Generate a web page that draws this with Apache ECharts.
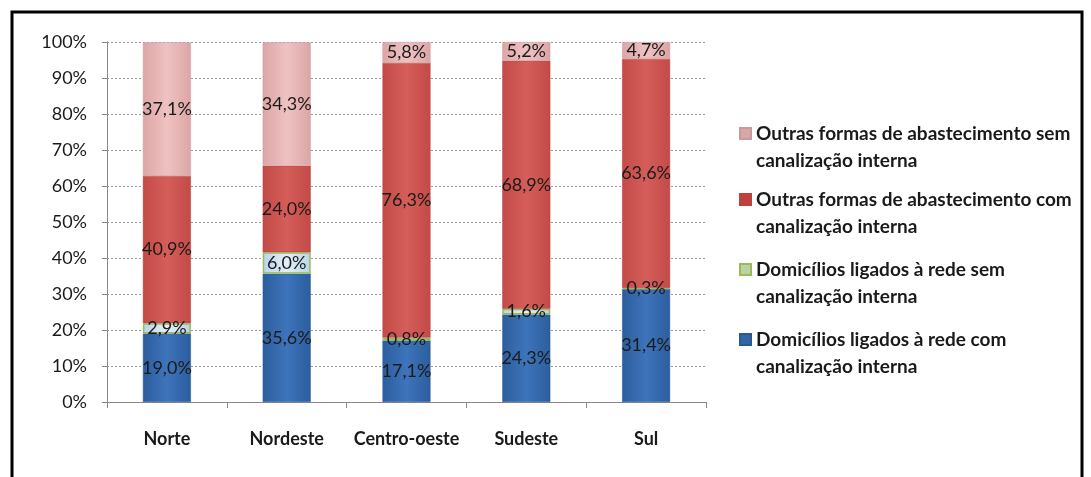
<!DOCTYPE html>
<html>
<head>
<meta charset="utf-8">
<script src="https://cdn.jsdelivr.net/npm/echarts@6/dist/echarts.min.js"></script>
<style>
html,body{margin:0;padding:0;background:#fff;}
#chart{width:1091px;height:477px;}
</style>
</head>
<body>
<div id="chart"></div>
<script>
const categories = ['Norte', 'Nordeste', 'Centro-oeste', 'Sudeste', 'Sul'];
const redeComCanal = [19.0, 35.6, 17.1, 24.3, 31.4];
const redeSemCanal = [2.9, 6.0, 0.8, 1.6, 0.3];
const outrasComCanal = [40.9, 24.0, 76.3, 68.9, 63.6];
const outrasSemCanal = [37.1, 34.3, 5.8, 5.2, 4.7];
const seriesNames = [
  'Domicílios ligados à rede com\ncanalização interna',
  'Domicílios ligados à rede sem\ncanalização interna',
  'Outras formas de abastecimento com\ncanalização interna',
  'Outras formas de abastecimento sem\ncanalização interna'
];
const yTicks = [0, 10, 20, 30, 40, 50, 60, 70, 80, 90, 100];

function grad(c1, c2) {
  return new echarts.graphic.LinearGradient(0, 0, 1, 0, [
    {offset: 0, color: c1}, {offset: 0.5, color: c2}, {offset: 1, color: c1}
  ]);
}
const fills = [
  grad('#2c5e9e', '#3e74bb'),
  grad('#b7d3ea', '#e4f0f8'),
  grad('#c24a47', '#d55e5a'),
  grad('#dca5a5', '#efc2c2')
];
const borders = ['#2a5a96', '#9bbb59', '#b9413e', '#c99a9a'];
const legendIcon = ['#3565a6', '#b9d4a0', '#c0403d', '#d9a7a7'];
const dataSets = [redeComCanal, redeSemCanal, outrasComCanal, outrasSemCanal];

const chart = echarts.init(document.getElementById('chart'));
const fontFam = 'Lato, "Open Sans", sans-serif';

const series = dataSets.map((d, i) => ({
  name: seriesNames[i],
  type: 'bar',
  stack: 'total',
  barWidth: 48,
  data: d,
  itemStyle: {color: fills[i], borderColor: borders[i], borderWidth: i === 1 ? 1.5 : 0.5},
  label: {
    show: true,
    position: 'inside',
    color: '#1a1a1a',
    fontFamily: fontFam,
    fontSize: 18,
    formatter: p => p.value.toFixed(1).replace('.', ',') + '%'
  },
  emphasis: {disabled: true}
}));

const legendTops = [93, 159, 229, 299];
const legendOrder = [3, 2, 1, 0];
const legends = legendOrder.map((si, k) => ({
  data: [{name: seriesNames[si], itemStyle: {color: legendIcon[si]}}],
  left: 739,
  top: legendTops[k],
  orient: 'vertical',
  icon: 'rect',
  itemWidth: 11,
  itemHeight: 11,
  itemGap: 0,
  padding: 0,
  selectedMode: false,
  formatter: name => ' \n' + name,
  textStyle: {
    fontFamily: fontFam,
    fontSize: 19,
    fontWeight: 'bold',
    color: '#1a1a1a',
    lineHeight: 27
  }
}));

chart.setOption({
  animation: false,
  backgroundColor: '#fff',
  grid: {left: 107, right: 385, top: 42, bottom: 75, containLabel: false},
  legend: legends,
  xAxis: {
    type: 'category',
    data: categories,
    axisLine: {lineStyle: {color: '#888', width: 1}},
    axisTick: {show: true, length: 6, lineStyle: {color: '#888'}},
    axisLabel: {
      interval: 0,
      fontFamily: fontFam, fontSize: 18, fontWeight: 'bold', color: '#1a1a1a', margin: 28
    }
  },
  yAxis: {
    type: 'value',
    min: 0, max: 100, interval: 10,
    axisLine: {show: true, lineStyle: {color: '#888'}},
    axisTick: {show: true, length: 5, lineStyle: {color: '#888'}},
    axisLabel: {
      fontFamily: fontFam, fontSize: 18, color: '#1a1a1a', margin: 20,
      formatter: v => yTicks.includes(v) ? v + '%' : ''
    },
    splitLine: {show: true, lineStyle: {color: '#999', type: [2, 2], width: 1}}
  },
  series: series,
  graphic: [{
    type: 'rect',
    shape: {x: 12, y: 12, width: 1070, height: 480},
    style: {fill: 'none', stroke: '#000', lineWidth: 3},
    silent: true
  }]
});
</script>
</body>
</html>
